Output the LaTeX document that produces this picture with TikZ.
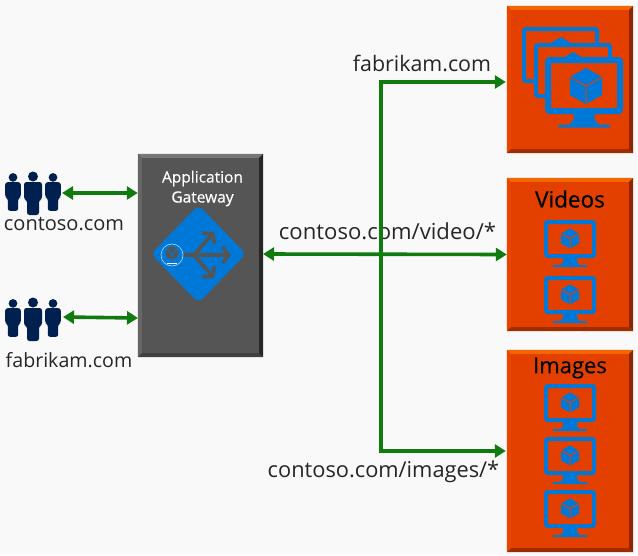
\documentclass[tikz,border=0pt]{standalone}
\usepackage{fontspec}
\setmainfont{Open Sans}
\newfontfamily\titlefont[FakeBold=0.5]{Open Sans}
\usepackage{tikz}
\usetikzlibrary{arrows.meta,shapes.geometric}
\definecolor{pagegrey}{HTML}{F9F9F9}
\definecolor{linkgreen}{HTML}{107C10}
\definecolor{vmorange}{HTML}{E34000}
\definecolor{vmblue}{HTML}{0078D7}
\definecolor{gategrey}{HTML}{555555}
\definecolor{usernavy}{HTML}{002050}
\tikzset{>={Triangle[length=11pt,width=13pt]}}
\tikzset{
    link/.style={draw=linkgreen,line width=3.6pt},
    gatebox/.style={fill=gategrey,inner sep=0pt,minimum width=125pt,minimum height=203pt},
    vmbox/.style={fill=vmorange,inner sep=0pt,minimum width=126pt},
    urltext/.style={text=black!85,inner sep=0pt},
    logoarrow/.style={draw=gategrey,line width=3.8pt,-{Straight Barb[length=6pt,width=16pt]}},
    pics/person/.style={code={
        \fill[usernavy] (0,4.5) circle (5);
        \fill[usernavy,rounded corners=2.5pt] (-9,10)--(9,10)--(9,27.5)--(6,28)--(6,43)--(-6,43)--(-6,28)--(-9,27.5)--cycle;
    }},
    pics/crowd/.style={code={
        \pic[scale=0.87] at (-20,1.5) {person};
        \pic at (0,0) {person};
        \pic[scale=0.87] at (20,1.5) {person};
    }},
    pics/vmcube/.style={code={
        \fill[vmblue] (0,-10)--(9,-5)--(9,5)--(0,10)--(-9,5)--(-9,-5)--cycle;
        \draw[vmorange,line width=1pt] (-9,-5)--(0,0)--(9,-5) (0,0)--(0,10);
    }},
    pics/vmscreen/.style={code={
        \draw[vmblue,rounded corners=2pt] (2,2) rectangle (50,36);
        \fill[vmblue] (19,37)--(33,37)--(33,42)--(36,45)--(43,45)--(43,47)--(9,47)--(9,45)--(16,45)--(19,42)--cycle;
    }},
    pics/vmicon/.style={code={
        \pic at (0,0) {vmscreen};
        \pic at (26,18.5) {vmcube};
    }},
}
% bevel strips round a box node: node, top, left, right, bottom
\newcommand{\bevel}[5]{
    \fill[#2] (#1.north west)--(#1.north east)--([shift={(-4pt,-4pt)}]#1.north east)--([shift={(4pt,-4pt)}]#1.north west)--cycle;
    \fill[#3] (#1.north west)--(#1.south west)--([shift={(4pt,4pt)}]#1.south west)--([shift={(4pt,-4pt)}]#1.north west)--cycle;
    \fill[#4] (#1.north east)--(#1.south east)--([shift={(-4pt,4pt)}]#1.south east)--([shift={(-4pt,-4pt)}]#1.north east)--cycle;
    \fill[#5] (#1.south west)--(#1.south east)--([shift={(-4pt,4pt)}]#1.south east)--([shift={(4pt,4pt)}]#1.south west)--cycle;
}
\begin{document}
\begin{tikzpicture}[x=1pt,y=-1pt]
    \useasboundingbox[fill=pagegrey] (0,0) rectangle (638,555);

    % the gateway
    \node[gatebox] (gateway) at (200.5,255.5) {};
    \bevel{gateway}{gategrey!80!white}{gategrey!90!white}{black!85}{black!75}
    \node[text=white,inner sep=0pt,align=center,font=\titlefont\fontsize{15.5}{20}\selectfont] (gatetitle) at (202.5,188.5) {Application\\Gateway};
    \node[diamond,fill=vmblue,rounded corners=6pt,inner sep=0pt,minimum width=95pt,minimum height=98pt] (gatelogo) at (198.5,254) {};
    \node[circle,draw=white!70!vmblue,line width=0.6pt,inner sep=0pt,minimum size=22pt] (gatehub) at (172,255) {};
    \fill[gategrey] (172,253) circle (6.5);
    \draw[vmblue,line width=1pt] (167,249)--(172,255)--(177,249) (172,255)--(172,260);
    \draw[white,line width=0.8pt] (167,263)--(177,263);
    \coordinate (fork) at (194,255);
    \draw[draw=gategrey,line width=3.8pt] (gatehub)++(12,0)--(fork);
    \draw[logoarrow] (fork)--(231,255);
    \draw[logoarrow] (fork)--(214,232);
    \draw[logoarrow] (fork)--(214,278);

    % the users
    \pic at (33,172) {crowd};
    \pic at (33,298) {crowd};
    \coordinate (contosouser) at (62,193);
    \coordinate (fabrikamuser) at (63,317);
    \coordinate (fabrikamgate) at (138,318);
    \node[urltext,font=\fontsize{20}{24}\selectfont] (contosolabel) at (64,224) {contoso.com};
    \node[urltext,font=\fontsize{19.6}{24}\selectfont] (fabrikamlabel) at (69,360) {fabrikam.com};

    % the pools
    \node[vmbox,minimum height=147pt] (fabrikampool) at (570,79.5) {};
    \bevel{fabrikampool}{orange!60!vmorange}{vmorange!90!orange}{vmorange!60!black}{vmorange!70!black}
    \node[vmbox,minimum height=153pt] (videopool) at (570,254.5) {};
    \bevel{videopool}{orange!60!vmorange}{vmorange!90!orange}{vmorange!60!black}{vmorange!70!black}
    \node[vmbox,minimum height=202pt] (imagepool) at (570,451) {};
    \bevel{imagepool}{orange!60!vmorange}{vmorange!90!orange}{vmorange!60!black}{vmorange!70!black}

    \draw[vmblue,line width=4pt,rounded corners=2pt] (524,29) rectangle (597,81);
    \fill[vmblue] (551,43)--(561,37)--(571,43)--cycle;
    \draw[vmblue,fill=vmorange,line width=4pt,rounded corners=2pt] (536,45) rectangle (610,96);
    \fill[vmblue] (563,58)--(573,52)--(583,58)--cycle;
    \fill[vmorange] (548,60) rectangle (620,112);
    \pic[scale=1.5,line width=6pt] at (545,57) {vmscreen};
    \pic[scale=1.8,line width=1.6pt] at (586,86) {vmcube};

    \node[inner sep=0pt,font=\titlefont\fontsize{22.5}{26}\selectfont] (videotitle) at (570,199) {Videos};
    \pic[line width=4pt] at (544,220) {vmicon};
    \pic[line width=4pt] at (544,276) {vmicon};
    \node[inner sep=0pt,font=\titlefont\fontsize{22}{26}\selectfont] (imagetitle) at (570,368) {Images};
    \pic[line width=4pt] at (544,384) {vmicon};
    \pic[line width=4pt] at (544,437) {vmicon};
    \pic[line width=4pt] at (544,490) {vmicon};

    % the rules
    \node[urltext,font=\fontsize{21.4}{24}\selectfont] (fabrikamrule) at (422,63) {fabrikam.com};
    \node[urltext,font=\fontsize{22.1}{24}\selectfont] (videorule) at (387.5,231) {contoso.com/video/*};
    \node[urltext,font=\fontsize{21.8}{24}\selectfont] (imagerule) at (383.5,472) {contoso.com/images/*};

    \coordinate (gateout) at (263,254);
    \coordinate (topcorner) at (381,82);
    \coordinate (lowcorner) at (381,451);
    \draw[link,<->] (contosouser)--(gateway.west |- contosouser);
    \draw[link,<->] (fabrikamuser)--(fabrikamgate);
    \draw[link,<->] (gateout)--(videopool.west);
    \draw[link,<->,shorten <=1pt,shorten >=1pt] (fabrikampool.west |- topcorner)--(topcorner)--(lowcorner)--(imagepool.west |- lowcorner);
\end{tikzpicture}
\end{document}
